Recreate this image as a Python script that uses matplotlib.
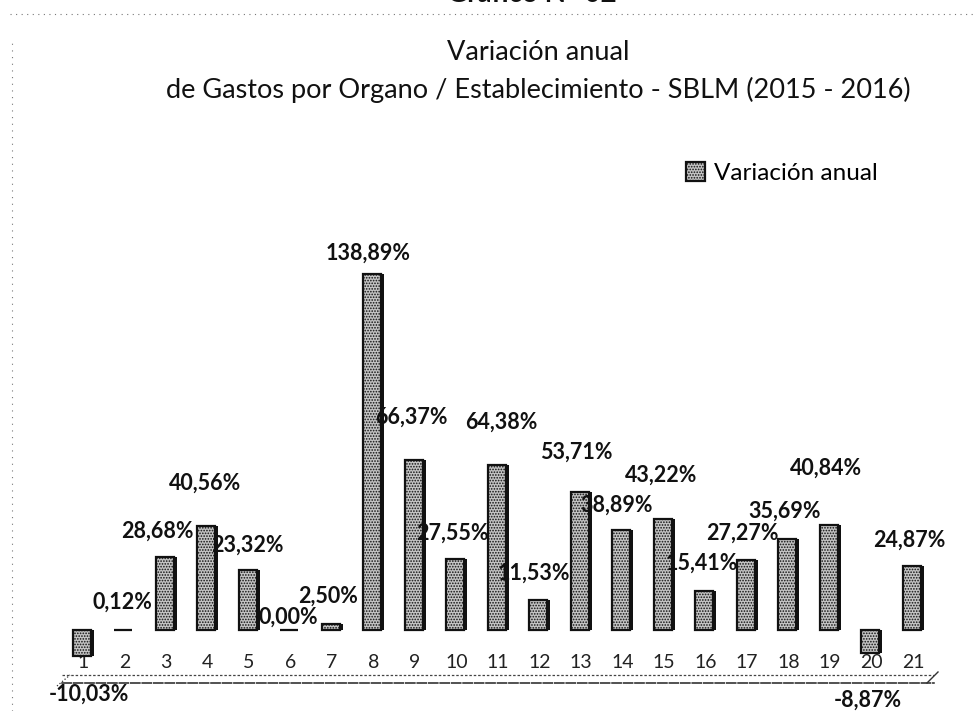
import matplotlib
matplotlib.use("Agg")
import matplotlib.pyplot as plt
import numpy as np
from matplotlib.lines import Line2D

# data
organos = [str(i) for i in range(1, 22)]
variacion = [-10.03, 0.12, 28.68, 40.56, 23.32, 0.00, 2.50, 138.89, 66.37, 27.55,
             64.38, 11.53, 53.71, 38.89, 43.22, 15.41, 27.27, 35.69, 40.84, -8.87, 24.87]
serie = "Variación anual"
titulo = "Variación anual\nde Gastos por Organo / Establecimiento - SBLM (2015 - 2016)"

# label offsets from the bar end, in pixels (layout only)
lbl_dx = [6, -2, -9, -2, -2, -2, -4, -5, -4, -4, 3, -6, -5, -6, -3, -4, -5, -4, -4, -4, -4]
lbl_dy = [-39, 27, 25, 43, 25, 13, 27, 21, 43, 26, 43, 27, 40, 25, 44, 27, 27, 27, 57, -47, 26]

plt.rcParams['font.family'] = ['Lato', 'DejaVu Sans']
plt.rcParams['hatch.linewidth'] = 0.8
plt.rcParams['hatch.color'] = '#202020'

W, H = 975, 711
fig = plt.figure(figsize=(W / 100, H / 100), dpi=100)

# axes placed so that bar 1 sits at x=83px, bar 21 at 913px, zero line at 630px
ax = fig.add_axes([62.25 / W, (H - 683) / H, (933.75 - 62.25) / W, (683 - 240) / H])
x = np.arange(1, len(variacion) + 1)
ax.set_xlim(0.5, len(variacion) + 0.5)
ax.set_ylim(-20.7, 152.3)

barras = ax.bar(x - 0.03, variacion, width=0.44, color='#c4c4c4', edgecolor='#111111',
                linewidth=1.6, hatch='......', label=serie, zorder=3)
# dark side face of the pseudo-3D bars
ax.bar(x + 0.21, variacion, width=0.09, color='#111111', linewidth=0, zorder=3)

for xi, v, dx, dy in zip(x, variacion, lbl_dx, lbl_dy):
    txt = f"{v:.2f}%".replace('.', ',')
    ax.annotate(txt, xy=(xi, v), xytext=(dx, dy), textcoords='offset pixels',
                ha='center', va='center', fontsize=15.5, fontweight='bold',
                color='#111111', zorder=5)

# floor of the chart
for s in ['top', 'right', 'left']:
    ax.spines[s].set_visible(False)
ax.spines['bottom'].set_linestyle((0, (6, 1.5)))
ax.spines['bottom'].set_color('#222222')
ax.spines['bottom'].set_linewidth(1.1)
ax.axhline(-17.6, color='#444444', lw=0.9, ls=(0, (2, 1.5)), zorder=1)
ax.set_yticks([])
ax.set_xticks(x)
ax.set_xticklabels(organos, fontsize=14, color='#222222')
ax.tick_params(axis='x', length=0, pad=-14.4)
for t in ax.get_xticklabels():
    t.set_va('center')
ax.patch.set_alpha(0)

# slanted ends of the floor
fig.add_artist(Line2D([57 / W, 70 / W], [1 - 686 / H, 1 - 675 / H], color='#333333', lw=0.9, ls=':'))
fig.add_artist(Line2D([927 / W, 938 / W], [1 - 683 / H, 1 - 672 / H], color='#333333', lw=1.0))

# title
lineas = titulo.split('\n')
fig.text(538 / W, 1 - 53 / H, lineas[0], ha='center', va='center', fontsize=19.5, color='#111111')
fig.text(538 / W, 1 - 90 / H, lineas[1], ha='center', va='center', fontsize=19.5, color='#111111')

# legend
ax.legend(handles=[barras], loc='center left', bbox_to_anchor=(686 / W, 1 - 173 / H),
          bbox_transform=fig.transFigure, frameon=False, fontsize=17.5,
          handlelength=0.8, handleheight=0.8, handletextpad=0.35,
          borderpad=0, borderaxespad=0)

# scan leftovers: cut-off heading, dotted rules
fig.text(532 / W, 1 + 6 / H, "Gráfico N° 02", ha='center', va='center',
         fontsize=20, fontweight='bold', color='#111111')
fig.add_artist(Line2D([10 / W, 1], [1 - 14 / H, 1 - 14 / H], color='#777777', lw=0.8, ls=(0, (1, 4))))
fig.add_artist(Line2D([12 / W, 12 / W], [0, 1 - 40 / H], color='#777777', lw=0.8, ls=(0, (1, 5))))

fig.savefig('out.png', dpi=100)
